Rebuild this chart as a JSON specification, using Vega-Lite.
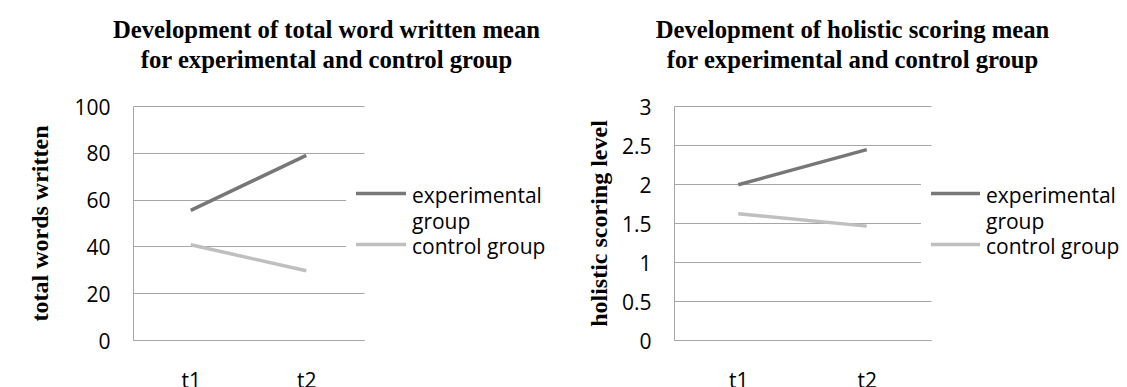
{
  "$schema": "https://vega.github.io/schema/vega-lite/v6.json",
  "background": "white",
  "padding": {"left": 27, "top": 18, "right": 0, "bottom": 0},
  "spacing": 32,
  "config": {
    "view": {"stroke": null},
    "font": "Open Sans",
    "title": {
      "font": "Liberation Serif",
      "fontSize": 24.7,
      "fontWeight": "bold",
      "color": "black",
      "lineHeight": 30,
      "anchor": "middle",
      "offset": 24
    },
    "axis": {
      "labelFont": "Open Sans",
      "labelFontSize": 21,
      "labelColor": "black",
      "titleFont": "Liberation Serif",
      "titleFontSize": 24,
      "titleFontWeight": "bold",
      "titleColor": "black",
      "domainColor": "#a6a6a6",
      "gridColor": "#a6a6a6",
      "ticks": false,
      "tickSize": 0
    },
    "legend": {
      "labelFont": "Open Sans",
      "labelFontSize": 21,
      "labelColor": "black",
      "labelLimit": 400,
      "labelOffset": 4,
      "symbolType": "stroke",
      "symbolSize": 2500,
      "symbolStrokeWidth": 3.5,
      "padding": 8,
      "clipHeight": 19,
      "fillColor": "white"
    }
  },
  "resolve": {"legend": {"color": "independent"}},
  "hconcat": [
    {
      "title": {
        "text": ["Development of total word written mean", "for experimental and control group"],
        "dx": 78
      },
      "width": 231,
      "height": 234,
      "data": {
        "values": [
          {"time": "t1", "group": "experimental group", "words": 55.4},
          {"time": "t2", "group": "experimental group", "words": 78.9},
          {"time": "t1", "group": "control group", "words": 40.7},
          {"time": "t2", "group": "control group", "words": 29.6}
        ]
      },
      "mark": {"type": "line", "strokeWidth": 3.5, "strokeCap": "butt"},
      "encoding": {
        "x": {
          "field": "time",
          "type": "ordinal",
          "scale": {"type": "point", "padding": 0.5},
          "axis": {"title": null, "labelAngle": 0, "labelPadding": 30, "labelBaseline": "top", "domain": true, "grid": false}
        },
        "y": {
          "field": "words",
          "type": "quantitative",
          "scale": {"domain": [0, 100]},
          "axis": {"title": "total words written", "values": [0, 20, 40, 60, 80, 100], "labelPadding": 23, "labelOffset": 2, "titleX": -81, "grid": true}
        },
        "color": {
          "field": "group",
          "type": "nominal",
          "sort": ["experimental group", "control group"],
          "scale": {"domain": ["experimental group", "control group"], "range": ["#777777", "#bfbfbf"]},
          "legend": {
            "title": null,
            "orient": "none",
            "legendX": 213,
            "legendY": 70,
            "labelExpr": "datum.label == 'experimental group' ? ['experimental', 'group'] : datum.label",
            "encode": {"labels": {"update": {"baseline": {"value": "alphabetic"}, "dy": {"value": 9}, "lineHeight": {"value": 26}}}}
          }
        }
      }
    },
    {
      "title": {
        "text": ["Development of holistic scoring mean", "for experimental and control group"],
        "dx": 50
      },
      "width": 257,
      "height": 234,
      "data": {
        "values": [
          {"time": "t1", "group": "experimental group", "score": 1.99},
          {"time": "t2", "group": "experimental group", "score": 2.44},
          {"time": "t1", "group": "control group", "score": 1.62},
          {"time": "t2", "group": "control group", "score": 1.46}
        ]
      },
      "mark": {"type": "line", "strokeWidth": 3.5, "strokeCap": "butt"},
      "encoding": {
        "x": {
          "field": "time",
          "type": "ordinal",
          "scale": {"type": "point", "padding": 0.5},
          "axis": {"title": null, "labelAngle": 0, "labelPadding": 30, "labelBaseline": "top", "domain": true, "grid": false}
        },
        "y": {
          "field": "score",
          "type": "quantitative",
          "scale": {"domain": [0, 3]},
          "axis": {"title": "holistic scoring level", "values": [0, 0.5, 1, 1.5, 2, 2.5, 3], "format": ".1~f", "labelPadding": 23, "labelOffset": 2, "titleX": -63, "grid": true}
        },
        "color": {
          "field": "group",
          "type": "nominal",
          "sort": ["experimental group", "control group"],
          "scale": {"domain": ["experimental group", "control group"], "range": ["#777777", "#bfbfbf"]},
          "legend": {
            "title": null,
            "orient": "none",
            "legendX": 247,
            "legendY": 70,
            "symbolSize": 2401,
            "labelExpr": "datum.label == 'experimental group' ? ['experimental', 'group'] : datum.label",
            "encode": {"labels": {"update": {"baseline": {"value": "alphabetic"}, "dy": {"value": 9}, "lineHeight": {"value": 26}}}}
          }
        }
      }
    }
  ]
}
